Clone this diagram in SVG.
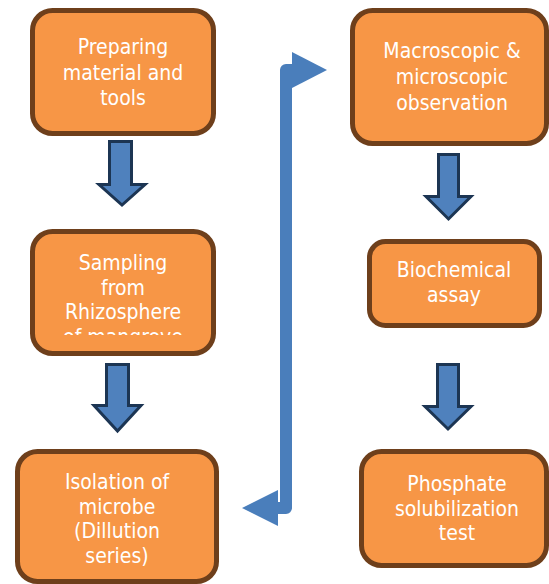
<svg xmlns="http://www.w3.org/2000/svg" width="549" height="584" viewBox="0 0 549 584">
<style>
.box{fill:#f79646;stroke:#6e3f1b;stroke-width:5}
.t{font-family:"DejaVu Sans Condensed","DejaVu Sans",sans-serif;font-stretch:condensed;font-size:21px;fill:#ffffff;text-anchor:middle}
.blk{fill:#4f81bd;stroke:#1c3553;stroke-width:3;stroke-linejoin:miter}
.elbow{fill:none;stroke:#4a7ebb;stroke-width:12;stroke-linejoin:round}
.head{fill:#4a7ebb}
</style>
<defs>
<clipPath id="clip2"><rect x="30" y="229" width="190" height="106"/></clipPath>
</defs>
<g id="n1">
<rect class="box" x="32.5" y="10.5" width="181" height="123" rx="20"/>
<text class="t" x="123" y="54">Preparing</text>
<text class="t" x="123" y="79.5">material and</text>
<text class="t" x="123" y="105">tools</text>
</g>
<g id="n2">
<rect class="box" x="32.5" y="231.5" width="181" height="122" rx="20"/>
<g clip-path="url(#clip2)">
<text class="t" x="123" y="270">Sampling</text>
<text class="t" x="123" y="294.5">from</text>
<text class="t" x="123" y="319">Rhizosphere</text>
<text class="t" x="123" y="344">of mangrove</text>
</g>
</g>
<g id="n3">
<rect class="box" x="17.5" y="451.5" width="199" height="130" rx="20"/>
<text class="t" x="117" y="489">Isolation of</text>
<text class="t" x="117" y="513.5">microbe</text>
<text class="t" x="117" y="538">(Dillution</text>
<text class="t" x="117" y="563">series)</text>
</g>
<g id="n4">
<rect class="box" x="352.5" y="10.5" width="194" height="133" rx="20"/>
<text class="t" x="452" y="58">Macroscopic &amp;</text>
<text class="t" x="452" y="83.5">microscopic</text>
<text class="t" x="452" y="110">observation</text>
</g>
<g id="n5">
<rect class="box" x="369.5" y="241.5" width="170" height="84" rx="16"/>
<text class="t" x="454" y="277">Biochemical</text>
<text class="t" x="454" y="302">assay</text>
</g>
<g id="n6">
<rect class="box" x="361.5" y="451.5" width="185" height="114" rx="20"/>
<text class="t" x="457" y="491">Phosphate</text>
<text class="t" x="457" y="515.5">solubilization</text>
<text class="t" x="457" y="540">test</text>
</g>
<g id="connectors">
<polygon class="blk" points="109.5,141.5 131.5,141.5 131.5,184.5 145,184.5 122,205 99,184.5 109.5,184.5"/>
<polygon class="blk" points="106.5,364.5 128.5,364.5 128.5,405.5 141,405.5 117.5,431 94,405.5 106.5,405.5"/>
<polygon class="blk" points="438.5,154.5 458.5,154.5 458.5,196.5 471,196.5 448.5,219 426,196.5 438.5,196.5"/>
<polygon class="blk" points="437.5,364.5 458.5,364.5 458.5,406.5 471,406.5 448,429 425,406.5 437.5,406.5"/>
<path class="elbow" d="M278,508 H286 V70 H294"/>
<polygon class="head" points="292,52 327,70 292,88"/>
<polygon class="head" points="278,490 242,508 278,526"/>
</g>
</svg>
